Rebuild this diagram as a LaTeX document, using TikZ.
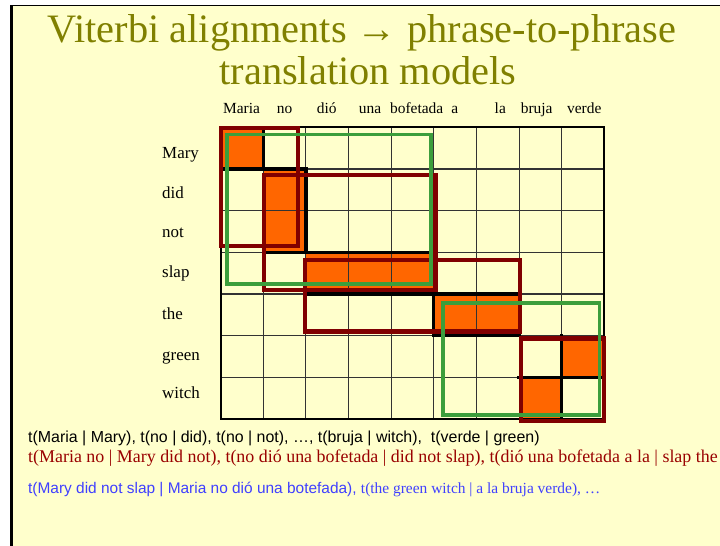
\documentclass[tikz,border=0pt]{standalone}
\usepackage{fontspec}
\setmainfont{Liberation Serif}
\setsansfont{Liberation Sans}
\usetikzlibrary{positioning}
\definecolor{slidebg}{RGB}{255,255,204}
\definecolor{titleolive}{RGB}{128,128,0}
\definecolor{alignorange}{RGB}{255,102,0}
\definecolor{phrasered}{RGB}{128,0,0}
\definecolor{phrasegreen}{RGB}{60,158,60}
\definecolor{textred}{RGB}{153,0,0}
\definecolor{textblue}{RGB}{64,64,255}

\begin{document}
\begin{tikzpicture}[x=1bp, y=-1bp,
    titleline/.style={anchor=base, text=titleolive, font=\fontsize{40.5}{44}\selectfont, inner sep=0pt},
    colword/.style={anchor=base, font=\fontsize{15.5}{17}\selectfont, inner sep=0pt},
    rowword/.style={anchor=base west, font=\fontsize{17}{19}\selectfont, inner sep=0pt},
    paramline/.style={anchor=base west, inner sep=0pt},
    gridline/.style={draw=black!80, line width=1.1bp},
    aligned/.style={fill=alignorange},
    pathedge/.style={line width=3.3bp, line cap=rect},
    redbox/.style={draw=phrasered, line width=4.2bp},
    greenbox/.style={draw=phrasegreen, line width=3.7bp}
  ]
  \useasboundingbox (0,0) rectangle (720,546);
  % slide background and frame
  \fill[slidebg] (11,5.5) rectangle (720,546);
  \draw[line width=2.6bp] (11.2,546) -- (11.2,5);
  \draw[line width=1.7bp] (10,5.6) -- (720,5.6);

  % title
  \node[titleline] (title1) at (362,43) {Viterbi alignments → phrase-to-phrase};
  \node[titleline] (title2) at (368,85) {translation models};

  % source words (columns)
  \foreach \x/\w [count=\i] in {241.5/Maria, 284.5/no, 326.7/dió, 370/una, 416.7/bofetada, 454.7/a, 500.3/la, 536.7/bruja, 584.2/verde}
    \node[colword] (col\i) at (\x,113.5) {\w};

  % target words (rows)
  \foreach \y/\w [count=\i] in {158.3/Mary, 198.3/did, 237.3/not, 277.3/slap, 319/the, 360/green, 398.3/witch}
    \node[rowword] (row\i) at (162,\y) {\w};

  % alignment matrix, one unit per cell
  \begin{scope}[shift={(220.7,127.3)}, x=42.62bp, y=-41.67bp]
    \foreach \c/\r in {0/0, 1/1, 1/2, 2/3, 3/3, 4/3, 5/4, 6/4, 8/5, 7/6}
      \fill[aligned] (\c,\r) rectangle ++(1,1);
    \foreach \c in {1,...,8}
      \draw[gridline] (\c,0) -- (\c,7);
    \foreach \r in {1,...,6}
      \draw[gridline] (0,\r) -- (9,\r);
    \draw[line width=1.8bp] (0,0) rectangle (9,7);
    % viterbi path edges
    \draw[pathedge] (1,0) -- (1,1) (0,1) -- (2,1) (2,1) -- (2,3) (1,3) -- (5,3)
      (2,4) -- (7,4) (5,4) -- (5,5) (5,5) -- (7,5) (8,5) -- (8,7) (7,6) -- (9,6);
    % consistent phrase pairs
    \draw[redbox] (0,0.01) rectangle (1.82,2.85);
    \draw[redbox] (1.01,1.15) rectangle (5.04,3.9);
    \draw[redbox] (1.98,3.18) rectangle (7.02,4.9);
    \draw[redbox] (7.04,5.07) rectangle (9,7.05);
    \draw[greenbox] (0.15,0.17) rectangle (4.94,3.76);
    \draw[greenbox] (5.22,4.22) rectangle (8.89,6.91);
  \end{scope}

  % translation parameters
  \node[paramline, font=\sffamily\fontsize{16}{18}\selectfont] (wordparams) at (28,442)
    {t(Maria | Mary), t(no | did), t(no | not), …, t(bruja | witch),\ \ t(verde | green)};
  \node[paramline, text=textred, font=\fontsize{18}{20}\selectfont] (phraseparams) at (28,462)
    {t(Maria no | Mary did not), t(no dió una bofetada | did not slap), t(dió una bofetada a la | slap the};
  \node[paramline, text=textblue, font=\fontsize{15.5}{18}\selectfont] (greenparams) at (28,493)
    {{\sffamily t(Mary did not slap | Maria no dió una botefada), }t(the green witch | a la bruja verde), …};
\end{tikzpicture}
\end{document}
